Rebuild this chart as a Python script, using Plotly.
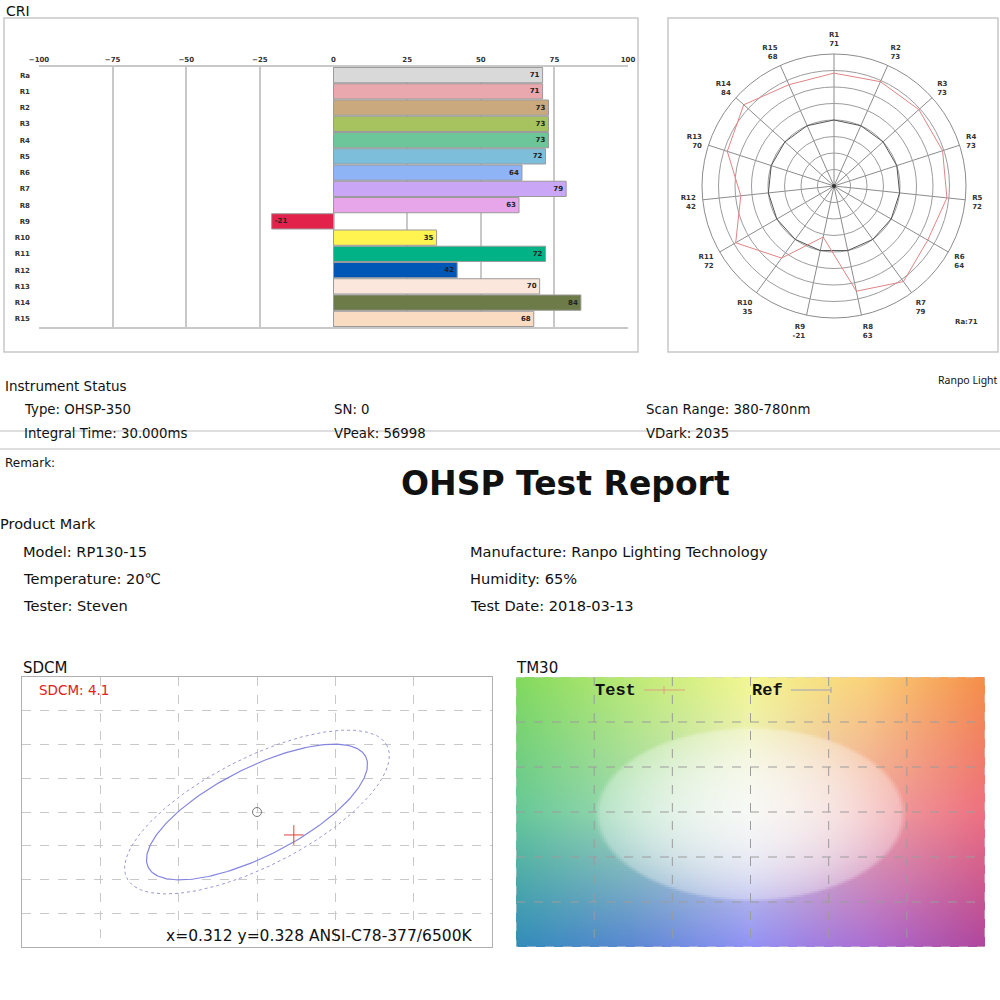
import numpy as np
import plotly.graph_objects as go

# ---------------- data ----------------
cri_labels = ["Ra", "R1", "R2", "R3", "R4", "R5", "R6", "R7", "R8",
              "R9", "R10", "R11", "R12", "R13", "R14", "R15"]
cri_values = [71, 71, 73, 73, 73, 72, 64, 79, 63, -21, 35, 72, 42, 70, 84, 68]
cri_colors = ["#d9d9d9", "#e9a7ae", "#caa97f", "#a7c35f", "#6cc699", "#7dbedb",
              "#8eb4f5", "#caa6f6", "#e8a6ea", "#e2224b", "#fff450", "#00b285",
              "#0057b5", "#fce7dc", "#6d7b48", "#f9dcc2"]
cri_ticks = [-100, -75, -50, -25, 0, 25, 50, 75, 100]

polar_labels = cri_labels[1:]
polar_values = cri_values[1:]
polar_rings = [-75, -50, -25, 0, 25, 50, 75, 100]
ra_value = 71

instrument_rows = [["Type: OHSP-350", "SN: 0", "Scan Range: 380-780nm"],
                   ["Integral Time: 30.000ms", "VPeak: 56998", "VDark: 2035"]]
product_rows = [["Model: RP130-15", "Manufacture: Ranpo Lighting Technology"],
                ["Temperature: 20℃", "Humidity: 65%"],
                ["Tester: Steven", "Test Date: 2018-03-13"]]

sdcm_value = 4.1
sdcm_caption = "x=0.312 y=0.328 ANSI-C78-377/6500K"
ref_point_x = [3.0]
ref_point_y = [4.0]
test_point_x = [3.47]
test_point_y = [3.32]

# TM30 background anchor colours (rows top->bottom, cols left->right)
tm30_anchor_x = [0, 1.5, 3, 4.5, 6]
tm30_anchor_y = [0, 3, 6]
tm30_anchor_rgb = [
    [(130, 218, 92), (190, 234, 118), (244, 247, 145), (250, 210, 122), (245, 142, 72)],
    [(102, 200, 152), (160, 218, 180), (228, 232, 220), (240, 165, 165), (238, 112, 128)],
    [(50, 140, 186), (92, 136, 212), (146, 146, 246), (172, 110, 210), (176, 70, 156)],
]

# ---------------- helpers ----------------
BODY = "DejaVu Sans"


def px(x):
    return x / 1000


def py(y):
    return 1 - y / 1000


def txt(s, x, y, size, color="#111", family=BODY, weight="normal", xanchor="left"):
    return dict(text=s, x=px(x), y=py(y), xref="paper", yref="paper",
                xanchor=xanchor, yanchor="middle", showarrow=False,
                font=dict(size=size, color=color, family=family, weight=weight))


fig = go.Figure()

# ---------------- CRI bar chart ----------------
fig.add_trace(go.Bar(
    x=cri_values, y=cri_labels, orientation="h",
    marker=dict(color=cri_colors, line=dict(color="#9a9a9a", width=1)),
    text=[str(v) for v in cri_values], textposition="inside",
    insidetextanchor="end", textangle=0,
    textfont=dict(size=7, color="#222", family=BODY, weight="bold"),
    xaxis="x", yaxis="y", showlegend=False, hoverinfo="skip"))

# ---------------- CRI polar ----------------
theta = polar_labels + polar_labels[:1]
fig.add_trace(go.Scatterpolar(r=[0] * len(theta), theta=theta, mode="lines",
                              line=dict(color="#555", width=1), showlegend=False))
fig.add_trace(go.Scatterpolar(r=polar_values + polar_values[:1], theta=theta,
                              mode="lines", line=dict(color="#e08585", width=1),
                              showlegend=False))
fig.add_trace(go.Scatterpolar(r=[-100], theta=[polar_labels[0]], mode="markers",
                              marker=dict(color="#333", size=4), showlegend=False))

# ---------------- SDCM ----------------
SX = 470 / 6   # px per unit
SY = 270 / 8


def ellipse(cx, cy, a, b, tilt):
    t = np.linspace(0, 2 * np.pi, 240)
    th = np.radians(tilt)
    dx = a * np.cos(t) * np.cos(th) - b * np.sin(t) * np.sin(th)
    dy = a * np.cos(t) * np.sin(th) + b * np.sin(t) * np.cos(th)
    return cx + dx / SX, cy + dy / SY


ex, ey = ellipse(ref_point_x[0], ref_point_y[0], 146, 54, 27)
fig.add_trace(go.Scatter(x=ex, y=ey, mode="lines", xaxis="x2", yaxis="y2",
                         line=dict(color="#9a9ad0", width=1, dash="dot"), showlegend=False))
ex, ey = ellipse(ref_point_x[0], ref_point_y[0], 122, 44, 27)
fig.add_trace(go.Scatter(x=ex, y=ey, mode="lines", xaxis="x2", yaxis="y2",
                         line=dict(color="#8585e0", width=1.2), showlegend=False))
fig.add_trace(go.Scatter(x=ref_point_x, y=ref_point_y, mode="markers", xaxis="x2", yaxis="y2",
                         marker=dict(symbol="circle-open", size=9, color="#777",
                                     line=dict(width=1)), showlegend=False))
fig.add_trace(go.Scatter(x=test_point_x, y=test_point_y, mode="markers", xaxis="x2", yaxis="y2",
                         marker=dict(symbol="cross-thin-open", size=14, color="#e04040",
                                     line=dict(color="#e04040", width=1)), showlegend=False))

# ---------------- TM30 background ----------------
H, W = 135, 235
xs = (np.arange(W) + 0.5) / W * 6
ys = (np.arange(H) + 0.5) / H * 6
anc = np.array(tm30_anchor_rgb, dtype=float)
rows = np.stack([np.stack([np.interp(xs, tm30_anchor_x, anc[r, :, c]) for c in range(3)], -1)
                 for r in range(3)])  # (3, W, 3)
base = np.stack([np.stack([np.interp(ys, tm30_anchor_y, rows[:, i, c]) for i in range(W)], 1)
                 for c in range(3)], -1)  # (H, W, 3)
X, Y = np.meshgrid(xs, ys)
r2 = ((X - 3.0) / 2.0) ** 2 + ((Y - 3.05) / 1.95) ** 2
w = np.where(r2 < 1, (0.3 + 0.42 * (1 - r2)) * np.clip((1 - r2) / 0.08, 0, 1), 0.0)
img = base * (1 - w[..., None]) + 255 * w[..., None]
fig.add_trace(go.Image(z=img.astype(int).tolist(), x0=3 / W, dx=6 / W, y0=3 / H, dy=6 / H,
                       xaxis="x3", yaxis="y3", hoverinfo="skip"))

# ---------------- layout ----------------
small = dict(size=7, color="#333", family=BODY, weight="bold")
annotations = [
    txt("CRI", 4, 11, 14),
    txt("Ra:%d" % ra_value, 966, 322, 7, color="#333", weight="bold", xanchor="center"),
    txt("Instrument Status", 3, 386, 13.5),
    txt("Ranpo Light", 936, 380, 10.5, family="Noto Sans"),
    txt("Remark:", 3, 463, 12),
    txt("OHSP Test Report", 565, 483, 33, weight="bold", xanchor="center"),
    txt("Product Mark", -2, 524, 14.5),
    txt("SDCM", 21, 668, 15),
    txt("TM30", 514, 668, 15),
    txt("SDCM: %.1f" % sdcm_value, 37, 690, 13.5, color="#e02020"),
    txt(sdcm_caption, 475, 936, 15.5, color="#111", xanchor="right"),
    txt("Test", 593, 690, 17, family="Liberation Mono", weight="bold"),
    txt("Ref", 750, 690, 17, family="Liberation Mono", weight="bold"),
]
for r, row in enumerate(instrument_rows):
    for c, s in enumerate(row):
        annotations.append(txt(s, [22, 332, 644][c], [410, 434][r], 13.3))
for r, row in enumerate(product_rows):
    for c, s in enumerate(row):
        annotations.append(txt(s, [21, 468][c], [551, 578, 605][r], 14.6))

grey = "#c8c8c8"
tmgrid = "#9c9c9c"
shapes = [
    dict(type="rect", xref="paper", yref="paper", x0=px(4), x1=px(638), y0=py(18), y1=py(352),
         line=dict(color=grey, width=1.5)),
    dict(type="rect", xref="paper", yref="paper", x0=px(668), x1=px(998), y0=py(18), y1=py(352),
         line=dict(color=grey, width=1.5)),
    dict(type="line", xref="paper", yref="paper", x0=0, x1=1, y0=py(431), y1=py(431),
         line=dict(color="#bdbdbd", width=1.2)),
    dict(type="line", xref="paper", yref="paper", x0=0, x1=1, y0=py(449), y1=py(449),
         line=dict(color="#bdbdbd", width=1.2)),
    # TM30 legend lines
    dict(type="line", xref="paper", yref="paper", x0=px(644), x1=px(685), y0=py(690), y1=py(690),
         line=dict(color="#e0a080", width=1)),
    dict(type="line", xref="paper", yref="paper", x0=px(664), x1=px(664), y0=py(686), y1=py(694),
         line=dict(color="#e0a080", width=1)),
    dict(type="line", xref="paper", yref="paper", x0=px(791), x1=px(831), y0=py(690), y1=py(690),
         line=dict(color="#9aa0c0", width=1)),
    dict(type="line", xref="paper", yref="paper", x0=px(831), x1=px(831), y0=py(687), y1=py(693),
         line=dict(color="#9aa0c0", width=1)),
    dict(type="rect", xref="x3", yref="y3", x0=0, x1=6, y0=0, y1=6, layer="above",
         line=dict(color="#cfcfcf", width=1, dash="dash")),
]
for v in range(1, 6):
    shapes.append(dict(type="line", xref="x3", yref="y3", x0=v, x1=v, y0=0, y1=6, layer="above",
                       line=dict(color=tmgrid, width=1, dash="dash")))
    shapes.append(dict(type="line", xref="x3", yref="y3", x0=0, x1=6, y0=v, y1=v, layer="above",
                       line=dict(color=tmgrid, width=1, dash="dash")))

fig.update_layout(
    width=1000, height=1000, margin=dict(l=0, r=0, t=0, b=0, autoexpand=False),
    paper_bgcolor="white", plot_bgcolor="white", showlegend=False,
    bargap=0.06,
    xaxis=dict(domain=[px(39), px(628)], range=[-100, 100], side="top", tickvals=cri_ticks,
               tickfont=small, showgrid=True, gridcolor=grey, gridwidth=1.5, zeroline=False,
               showline=True, mirror=True, linecolor=grey, linewidth=1.5, ticks="",
               automargin=False, anchor="y"),
    yaxis=dict(domain=[py(327), py(67)], type="category", categoryorder="array",
               categoryarray=cri_labels, autorange="reversed", tickfont=small,
               ticks="", showgrid=False, ticklabelstandoff=8, showline=False,
               automargin=False, anchor="x"),
    polar=dict(
        domain=dict(x=[px(702), px(966)], y=[py(318), py(54)]),
        bgcolor="white",
        angularaxis=dict(direction="clockwise", rotation=90, type="category",
                         categoryarray=polar_labels, tickvals=polar_labels,
                         ticktext=["%s<br>%d" % (l, v) for l, v in zip(polar_labels, polar_values)],
                         tickfont=small, gridcolor="#8c8c8c", linecolor="#8c8c8c",
                         ticks="outside", ticklen=5, tickcolor="rgba(0,0,0,0)"),
        radialaxis=dict(range=[-100, 100], tickvals=polar_rings, showticklabels=False,
                        gridcolor="#9c9c9c", showline=False, ticks=""),
    ),
    xaxis2=dict(domain=[px(22), px(492)], range=[0, 6], dtick=1, showgrid=True, anchor="y2",
                gridcolor="#c8c8c8", griddash="dash", showticklabels=False, zeroline=False,
                showline=True, mirror=True, linecolor="#b0b0b0", ticks=""),
    yaxis2=dict(domain=[py(947), py(677)], range=[0, 8], dtick=1, showgrid=True, anchor="x2",
                gridcolor="#c8c8c8", griddash="dash", showticklabels=False, zeroline=False,
                showline=True, mirror=True, linecolor="#b0b0b0", ticks=""),
    xaxis3=dict(domain=[px(516), px(985)], range=[0, 6], showgrid=False, showticklabels=False,
                zeroline=False, ticks="", showline=False, anchor="y3"),
    yaxis3=dict(domain=[py(947), py(677)], range=[6, 0], showgrid=False, showticklabels=False,
                zeroline=False, ticks="", showline=False, scaleanchor=False, anchor="x3"),
    annotations=annotations,
    shapes=shapes,
)

fig.write_html("out.html", config={"displayModeBar": False},
               post_script="document.body.style.margin='0px';")
